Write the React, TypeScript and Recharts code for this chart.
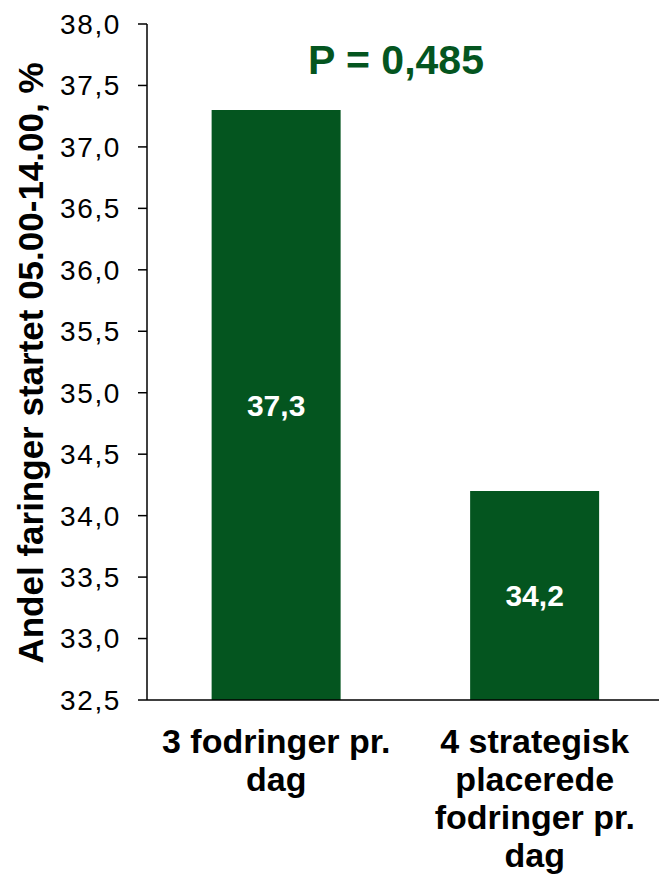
import { Bar, BarChart, LabelList, XAxis, YAxis } from "recharts";

const categories = ["3 fodringer pr.\ndag", "4 strategisk\nplacerede\nfodringer pr.\ndag"];
const shares = [37.3, 34.2];
const yTicks = [32.5, 33, 33.5, 34, 34.5, 35, 35.5, 36, 36.5, 37, 37.5, 38];
const pValue = "P = 0,485";
const yTitle = "Andel faringer startet 05.00-14.00, %";

const GREEN = "#04551f";
const FONT = "'Liberation Sans', Arial, sans-serif";

const fmt = (v: number) => v.toFixed(1).replace(".", ",");

function CatTick({ x, y, payload }: any) {
  const lines = String(payload.value).split("\n");
  return (
    <text x={x} y={y} textAnchor="middle" fontFamily={FONT} fontSize={34} fontWeight="bold" fill="#000">
      {lines.map((l, i) => (
        <tspan key={i} x={x} dy={i === 0 ? 45 : 38}>
          {l}
        </tspan>
      ))}
    </text>
  );
}

export default function App() {
  const data = categories.map((c, i) => ({ name: c, value: shares[i] }));

  return (
    <div style={{ position: "absolute", left: 0, top: 0, width: 659, height: 877, overflow: "hidden", background: "#fff" }}>
      <BarChart width={664} height={877} data={data} margin={{ top: 24, right: 0, left: 0, bottom: 0 }} barCategoryGap="25%">
        <XAxis
          dataKey="name"
          interval={0}
          tick={<CatTick />}
          tickLine={false}
          axisLine={{ stroke: "#000", strokeWidth: 1.5 }}
          height={177}
        />
        <YAxis
          domain={[32.5, 38]}
          ticks={yTicks}
          tickFormatter={fmt}
          width={147}
          tickSize={9}
          tickMargin={17}
          tick={{ fontSize: 28, fill: "#000", fontFamily: FONT, letterSpacing: 1.6 }}
          tickLine={{ stroke: "#000", strokeWidth: 1.5 }}
          axisLine={{ stroke: "#000", strokeWidth: 1.5 }}
          allowDataOverflow
        />
        <Bar dataKey="value" fill={GREEN} isAnimationActive={false}>
          <LabelList
            dataKey="value"
            position="center"
            formatter={(v: any) => fmt(Number(v))}
            fill="#fff"
            fontSize={30}
            fontWeight="bold"
            fontFamily={FONT}
          />
        </Bar>
      </BarChart>
      <div
        style={{
          position: "absolute",
          left: 31,
          top: 363,
          transform: "translate(-50%, -50%) rotate(-90deg)",
          whiteSpace: "nowrap",
          fontFamily: FONT,
          fontWeight: "bold",
          fontSize: 35,
          color: "#000",
        }}
      >
        {yTitle}
      </div>
      <div
        style={{
          position: "absolute",
          left: 396,
          top: 60,
          transform: "translate(-50%, -50%)",
          whiteSpace: "nowrap",
          fontFamily: FONT,
          fontWeight: "bold",
          fontSize: 41,
          color: GREEN,
        }}
      >
        {pValue}
      </div>
    </div>
  );
}
